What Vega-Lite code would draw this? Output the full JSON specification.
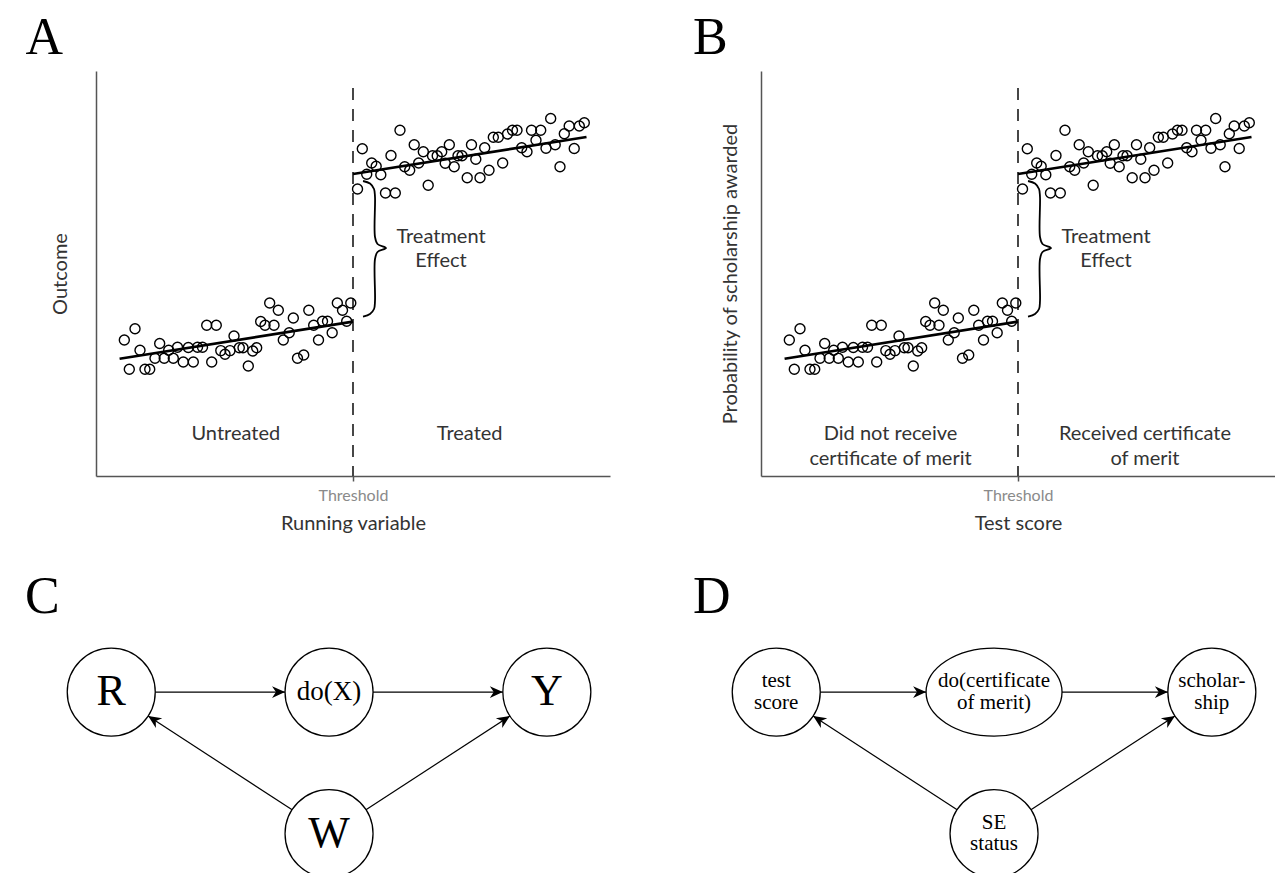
{
  "$schema": "https://vega.github.io/schema/vega-lite/v6.json",
  "background": "white",
  "padding": {"left": 25, "top": 12, "right": 0, "bottom": 0},
  "columns": 2,
  "bounds": "flush",
  "spacing": {"row": 154, "column": 151},
  "config": {
    "view": {"stroke": null},
    "font": "Lato",
    "title": {"font": "Liberation Serif", "fontSize": 52, "fontWeight": "normal", "anchor": "start", "frame": "group", "color": "black", "offset": 6},
    "axis": {"grid": false, "domainColor": "#555", "domainWidth": 1.5, "tickColor": "#555", "tickWidth": 1.5, "labelFont": "Lato", "titleFont": "Lato", "titleFontWeight": "normal", "titleColor": "#333", "titleFontSize": 20, "labelColor": "#8a8a8a", "labelFontSize": 16}
  },
  "datasets": {
    "points": [
      {"x":5.51,"y":33.58},{"x":7.59,"y":36.37},{"x":8.56,"y":31.04},{"x":6.48,"y":26.35},{"x":9.53,"y":26.35},{"x":10.45,"y":26.35},{"x":12.39,"y":32.72},{"x":11.48,"y":29.09},{"x":13.27,"y":29.09},{"x":14.14,"y":31.06},{"x":15.04,"y":29.09},{"x":15.86,"y":31.78},{"x":16.98,"y":28.15},{"x":17.96,"y":31.73},{"x":18.93,"y":28.15},{"x":19.75,"y":31.78},{"x":20.72,"y":31.78},{"x":21.54,"y":37.21},{"x":23.40,"y":37.21},{"x":22.51,"y":28.15},{"x":24.28,"y":30.96},{"x":25.10,"y":30.05},{"x":26.07,"y":30.96},{"x":26.85,"y":34.57},{"x":27.88,"y":31.68},{"x":28.60,"y":31.68},{"x":29.63,"y":27.16},{"x":30.49,"y":30.86},{"x":31.26,"y":31.68},{"x":32.04,"y":38.15},{"x":32.88,"y":37.23},{"x":34.63,"y":37.23},{"x":33.79,"y":42.72},{"x":35.47,"y":40.94},{"x":36.44,"y":33.58},{"x":37.59,"y":35.38},{"x":38.39,"y":39.01},{"x":39.20,"y":29.09},{"x":40.41,"y":29.88},{"x":41.40,"y":40.94},{"x":42.35,"y":37.21},{"x":43.29,"y":33.58},{"x":44.07,"y":38.20},{"x":45.04,"y":38.20},{"x":45.95,"y":35.38},{"x":46.95,"y":42.72},{"x":47.96,"y":40.94},{"x":48.77,"y":38.20},{"x":49.57,"y":42.72},
      {"x":50.88,"y":70.86},{"x":51.81,"y":80.81},{"x":53.64,"y":77.28},{"x":54.51,"y":76.47},{"x":52.67,"y":74.49},{"x":55.41,"y":74.37},{"x":56.32,"y":69.88},{"x":58.23,"y":69.88},{"x":57.39,"y":79.14},{"x":59.14,"y":85.38},{"x":60.06,"y":76.35},{"x":61.03,"y":75.51},{"x":61.91,"y":81.78},{"x":62.78,"y":77.28},{"x":63.68,"y":80.05},{"x":64.63,"y":71.80},{"x":65.47,"y":79.09},{"x":66.38,"y":79.09},{"x":67.26,"y":80.05},{"x":67.94,"y":77.21},{"x":68.74,"y":81.78},{"x":69.69,"y":76.37},{"x":70.43,"y":79.09},{"x":71.21,"y":79.09},{"x":72.22,"y":73.65},{"x":73.05,"y":81.78},{"x":73.89,"y":78.20},{"x":74.71,"y":73.65},{"x":75.62,"y":81.06},{"x":76.46,"y":75.51},{"x":77.30,"y":83.63},{"x":78.27,"y":83.63},{"x":79.12,"y":77.28},{"x":80.06,"y":84.44},{"x":81.03,"y":85.38},{"x":81.91,"y":85.38},{"x":82.82,"y":81.06},{"x":83.85,"y":80.05},{"x":84.73,"y":85.38},{"x":85.60,"y":82.91},{"x":86.52,"y":85.38},{"x":87.55,"y":80.94},{"x":88.46,"y":88.27},{"x":89.34,"y":81.78},{"x":90.27,"y":76.37},{"x":91.11,"y":84.49},{"x":92.06,"y":86.42},{"x":93.04,"y":80.86},{"x":94.03,"y":86.42},{"x":95.00,"y":87.23}
    ],
    "fits": [
      {"side":"below","x":4.59,"y":28.96},{"side":"below","x":50,"y":38.10},
      {"side":"above","x":50,"y":74.57},{"side":"above","x":95.43,"y":83.70}
    ],
    "cutoff": [{"x":50,"y":95.8,"y2":0}],
    "brace": [
      {"i":0,"x":51.95,"y":72.84},{"i":1,"x":53.31,"y":72.22},{"i":2,"x":54.09,"y":70.86},{"i":3,"x":54.28,"y":68.89},{"i":4,"x":54.28,"y":59.01},{"i":5,"x":54.77,"y":57.28},{"i":6,"x":56.42,"y":56.30},{"i":7,"x":54.77,"y":55.31},{"i":8,"x":54.28,"y":53.58},{"i":9,"x":54.28,"y":43.21},{"i":10,"x":54.09,"y":41.23},{"i":11,"x":53.31,"y":40.0},{"i":12,"x":51.95,"y":39.38}
    ],
    "notesA": [
      {"x":27.2,"y":10.37,"label":"Untreated"},{"x":72.7,"y":10.37,"label":"Treated"},
      {"x":67.12,"y":59.0,"label":"Treatment"},{"x":67.12,"y":53.1,"label":"Effect"}
    ],
    "notesB": [
      {"x":25.2,"y":10.37,"label":"Did not receive"},{"x":25.2,"y":4.2,"label":"certificate of merit"},
      {"x":74.7,"y":10.37,"label":"Received certificate"},{"x":74.7,"y":4.2,"label":"of merit"},
      {"x":67.12,"y":59.0,"label":"Treatment"},{"x":67.12,"y":53.1,"label":"Effect"}
    ],
    "nodesC": [
      {"node":"R","x":0,"y":0,"row":"top","kind":"variable"},
      {"node":"do(X)","x":2,"y":0,"row":"top","kind":"intervention"},
      {"node":"Y","x":4,"y":0,"row":"top","kind":"variable"},
      {"node":"W","x":2,"y":-1.3,"row":"bottom","kind":"variable"}
    ],
    "edgesC": [
      {"from":"R","to":"do(X)","x":0.404,"y":0,"x2":1.596,"y2":0,"heading":0},
      {"from":"do(X)","to":"Y","x":2.404,"y":0,"x2":3.596,"y2":0,"heading":0},
      {"from":"W","to":"R","x":1.661,"y":-1.08,"x2":0.339,"y2":-0.22,"heading":213.05},
      {"from":"W","to":"Y","x":2.339,"y":-1.08,"x2":3.661,"y2":-0.22,"heading":326.95}
    ],
    "nodesD": [
      {"node":"test score","x":0,"y":0,"row":"top","form":"round"},
      {"node":"do(certificate of merit)","x":2,"y":0,"row":"top","form":"oval"},
      {"node":"scholarship","x":4,"y":0,"row":"top","form":"round"},
      {"node":"SE status","x":2,"y":-1.3,"row":"bottom","form":"round"}
    ],
    "edgesD": [
      {"from":"test score","to":"do(certificate of merit)","x":0.404,"y":0,"x2":1.376,"y2":0,"heading":0},
      {"from":"do(certificate of merit)","to":"scholarship","x":2.624,"y":0,"x2":3.596,"y2":0,"heading":0},
      {"from":"SE status","to":"test score","x":1.661,"y":-1.08,"x2":0.339,"y2":-0.22,"heading":213.05},
      {"from":"SE status","to":"scholarship","x":2.339,"y":-1.08,"x2":3.661,"y2":-0.22,"heading":326.95}
    ],
    "labelsD": [
      {"text":"test","x":0,"y":0.102},{"text":"score","x":0,"y":-0.098},
      {"text":"do(certificate","x":2,"y":0.102},{"text":"of merit)","x":2,"y":-0.098},
      {"text":"scholar-","x":4,"y":0.102},{"text":"ship","x":4,"y":-0.098},
      {"text":"SE","x":2,"y":-1.198},{"text":"status","x":2,"y":-1.398}
    ]
  },
  "concat": [
    {
      "width": 514, "height": 405,
      "title": {"text": "A", "dx": -70.5},
      "encoding": {
        "x": {"field": "x", "type": "quantitative", "scale": {"domain": [0, 100], "nice": false, "zero": false},
              "axis": {"values": [50], "labelExpr": "'Threshold'", "title": "Running variable", "tickSize": 5, "labelPadding": 6, "titlePadding": 10}},
        "y": {"field": "y", "type": "quantitative", "scale": {"domain": [0, 100], "nice": false, "zero": false},
              "axis": {"title": "Outcome", "ticks": false, "labels": false, "titlePadding": 26}}
      },
      "layer": [
        {"data": {"name": "cutoff"}, "mark": {"type": "rule", "color": "#333", "strokeWidth": 1.8, "strokeDash": [12, 9]}, "encoding": {"y2": {"field": "y2"}}},
        {"data": {"name": "points"}, "mark": {"type": "point", "shape": "circle", "filled": false, "color": "black", "strokeWidth": 1.4, "size": 100, "opacity": 1}},
        {"data": {"name": "fits"}, "mark": {"type": "line", "color": "black", "strokeWidth": 2.7}, "encoding": {"detail": {"field": "side"}}},
        {"data": {"name": "brace"}, "mark": {"type": "line", "interpolate": "catmull-rom", "color": "black", "strokeWidth": 1.8}, "encoding": {"order": {"field": "i", "type": "quantitative"}}},
        {"data": {"name": "notesA"}, "mark": {"type": "text", "font": "Lato", "fontSize": 20, "color": "#333", "align": "center", "baseline": "middle"}, "encoding": {"text": {"field": "label"}}}
      ]
    },
    {
      "width": 514, "height": 405,
      "title": {"text": "B", "dx": -68},
      "encoding": {
        "x": {"field": "x", "type": "quantitative", "scale": {"domain": [0, 100], "nice": false, "zero": false},
              "axis": {"values": [50], "labelExpr": "'Threshold'", "title": "Test score", "tickSize": 5, "labelPadding": 6, "titlePadding": 10}},
        "y": {"field": "y", "type": "quantitative", "scale": {"domain": [0, 100], "nice": false, "zero": false},
              "axis": {"title": "Probability of scholarship awarded", "ticks": false, "labels": false, "titlePadding": 21}}
      },
      "layer": [
        {"data": {"name": "cutoff"}, "mark": {"type": "rule", "color": "#333", "strokeWidth": 1.8, "strokeDash": [12, 9]}, "encoding": {"y2": {"field": "y2"}}},
        {"data": {"name": "points"}, "mark": {"type": "point", "shape": "circle", "filled": false, "color": "black", "strokeWidth": 1.4, "size": 100, "opacity": 1}},
        {"data": {"name": "fits"}, "mark": {"type": "line", "color": "black", "strokeWidth": 2.7}, "encoding": {"detail": {"field": "side"}}},
        {"data": {"name": "brace"}, "mark": {"type": "line", "interpolate": "catmull-rom", "color": "black", "strokeWidth": 1.8}, "encoding": {"order": {"field": "i", "type": "quantitative"}}},
        {"data": {"name": "notesB"}, "mark": {"type": "text", "font": "Lato", "fontSize": 20, "color": "#333", "align": "center", "baseline": "middle"}, "encoding": {"text": {"field": "label"}}}
      ]
    },
    {
      "width": 514, "height": 244,
      "title": {"text": "C", "dx": -71},
      "encoding": {
        "x": {"field": "x", "type": "quantitative", "scale": {"domain": [-0.14, 4.58], "nice": false, "zero": false}, "axis": null},
        "y": {"field": "y", "type": "quantitative", "scale": {"domain": [-1.67, 0.57], "nice": false, "zero": false}, "axis": null}
      },
      "layer": [
        {"data": {"name": "edgesC"}, "mark": {"type": "rule", "color": "black", "strokeWidth": 1.2}, "encoding": {"x2": {"field": "x2"}, "y2": {"field": "y2"}}},
        {"data": {"name": "edgesC"}, "mark": {"type": "point", "shape": "M0,0L-2,-0.9L-1.4,0L-2,0.9Z", "filled": true, "color": "black", "size": 169, "opacity": 1},
         "encoding": {
           "x": {"field": "x2", "type": "quantitative", "scale": {"domain": [-0.14, 4.58], "nice": false, "zero": false}, "axis": null},
           "y": {"field": "y2", "type": "quantitative", "scale": {"domain": [-1.67, 0.57], "nice": false, "zero": false}, "axis": null},
           "angle": {"field": "heading", "type": "quantitative", "scale": null}}},
        {"data": {"name": "nodesC"}, "transform": [{"filter": "datum.row == 'top'"}], "mark": {"type": "point", "shape": "circle", "filled": false, "color": "black", "strokeWidth": 1.3, "size": 7744, "opacity": 1}},
        {"data": {"name": "nodesC"}, "transform": [{"filter": "datum.row == 'bottom'"}], "mark": {"type": "point", "shape": "circle", "filled": false, "color": "black", "strokeWidth": 1.3, "size": 7744, "opacity": 1, "clip": true}},
        {"data": {"name": "nodesC"}, "transform": [{"filter": "datum.kind == 'variable'"}], "mark": {"type": "text", "font": "Liberation Serif", "fontSize": 44, "color": "black", "align": "center", "baseline": "middle"}, "encoding": {"text": {"field": "node"}}},
        {"data": {"name": "nodesC"}, "transform": [{"filter": "datum.kind == 'intervention'"}], "mark": {"type": "text", "font": "Liberation Serif", "fontSize": 27, "color": "black", "align": "center", "baseline": "middle"}, "encoding": {"text": {"field": "node"}}}
      ]
    },
    {
      "width": 514, "height": 244,
      "title": {"text": "D", "dx": -68},
      "encoding": {
        "x": {"field": "x", "type": "quantitative", "scale": {"domain": [-0.14, 4.58], "nice": false, "zero": false}, "axis": null},
        "y": {"field": "y", "type": "quantitative", "scale": {"domain": [-1.67, 0.57], "nice": false, "zero": false}, "axis": null}
      },
      "layer": [
        {"data": {"name": "edgesD"}, "mark": {"type": "rule", "color": "black", "strokeWidth": 1.2}, "encoding": {"x2": {"field": "x2"}, "y2": {"field": "y2"}}},
        {"data": {"name": "edgesD"}, "mark": {"type": "point", "shape": "M0,0L-2,-0.9L-1.4,0L-2,0.9Z", "filled": true, "color": "black", "size": 169, "opacity": 1},
         "encoding": {
           "x": {"field": "x2", "type": "quantitative", "scale": {"domain": [-0.14, 4.58], "nice": false, "zero": false}, "axis": null},
           "y": {"field": "y2", "type": "quantitative", "scale": {"domain": [-1.67, 0.57], "nice": false, "zero": false}, "axis": null},
           "angle": {"field": "heading", "type": "quantitative", "scale": null}}},
        {"data": {"name": "nodesD"}, "transform": [{"filter": "datum.row == 'top'"}], "mark": {"type": "point", "filled": false, "color": "black", "strokeWidth": 1.3, "size": 7744, "opacity": 1},
         "encoding": {"shape": {"field": "form", "type": "nominal", "legend": null, "scale": {"domain": ["round", "oval"], "range": ["circle", "M1.545,0C1.545,0.5523,0.8534,1,0,1C-0.8534,1,-1.545,0.5523,-1.545,0C-1.545,-0.5523,-0.8534,-1,0,-1C0.8534,-1,1.545,-0.5523,1.545,0Z"]}}}},
        {"data": {"name": "nodesD"}, "transform": [{"filter": "datum.row == 'bottom'"}], "mark": {"type": "point", "shape": "circle", "filled": false, "color": "black", "strokeWidth": 1.3, "size": 7744, "opacity": 1, "clip": true}},
        {"data": {"name": "labelsD"}, "mark": {"type": "text", "font": "Liberation Serif", "fontSize": 21, "color": "black", "align": "center", "baseline": "middle"}, "encoding": {"text": {"field": "text"}}}
      ]
    }
  ]
}
